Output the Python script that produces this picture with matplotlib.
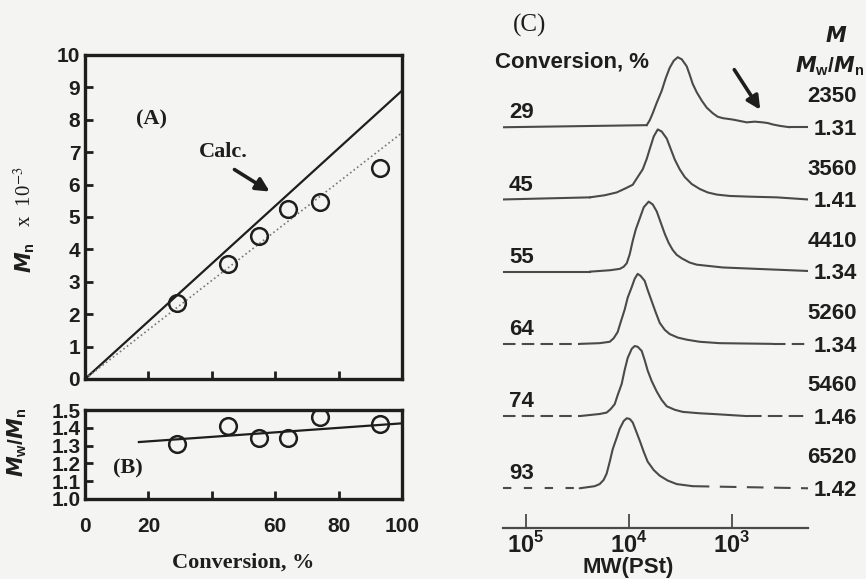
import numpy as np
import matplotlib
matplotlib.use("Agg")
import matplotlib.pyplot as plt
from matplotlib import transforms
from matplotlib.ticker import NullLocator, FixedLocator

# --- data ---
conversion = [29, 45, 55, 64, 74, 93]
mn_k = [2.35, 3.56, 4.41, 5.26, 5.46, 6.52]          # Mn x 10^-3
mn_labels = ["2350", "3560", "4410", "5260", "5460", "6520"]
pdi = [1.31, 1.41, 1.34, 1.34, 1.46, 1.42]
pdi_labels = ["1.31", "1.41", "1.34", "1.34", "1.46", "1.42"]

calc_x = [0, 100]
calc_y = [0, 8.9]
fit_a_x = [0, 100]
fit_a_y = [0, 7.6]
fit_b_x = [17, 100]
fit_b_y = [1.32, 1.425]

# GPC traces: log10(MW) and normalized detector response
gpc_logmw = [
    [3.825, 3.796, 3.767, 3.728, 3.680, 3.641, 3.602, 3.563, 3.524, 3.485, 3.437, 3.408, 3.379, 3.340,
     3.291, 3.243, 3.184, 3.136, 3.087, 2.990, 2.922, 2.854, 2.777, 2.699, 2.650, 2.602, 2.534, 2.437],
    [4.379, 4.233, 4.117, 4.029, 3.961, 3.913, 3.864, 3.825, 3.796, 3.757, 3.718, 3.680, 3.631, 3.592,
     3.553, 3.505, 3.456, 3.388, 3.311, 3.233, 3.146, 3.019, 2.825, 2.563, 2.26],
    [4.379, 4.184, 4.087, 4.049, 4.019, 3.990, 3.961, 3.932, 3.893, 3.854, 3.806, 3.767, 3.728, 3.689,
     3.650, 3.612, 3.573, 3.534, 3.485, 3.408, 3.340, 3.214, 3.087, 2.757, 2.26],
    [4.476, 4.282, 4.184, 4.146, 4.107, 4.078, 4.039, 4.010, 3.971, 3.942, 3.913, 3.884, 3.845, 3.816,
     3.777, 3.738, 3.699, 3.650, 3.602, 3.524, 3.437, 3.311, 3.117, 2.602],
    [4.476, 4.282, 4.214, 4.175, 4.136, 4.107, 4.068, 4.039, 4.010, 3.971, 3.942, 3.913, 3.874, 3.845,
     3.816, 3.777, 3.728, 3.680, 3.631, 3.553, 3.476, 3.311, 3.184, 2.854],
    [4.476, 4.330, 4.282, 4.243, 4.214, 4.184, 4.155, 4.117, 4.087, 4.049, 4.019, 3.990, 3.961, 3.932,
     3.893, 3.854, 3.816, 3.757, 3.699, 3.621, 3.534, 3.379],
]
gpc_resp = [
    [0.03, 0.10, 0.20, 0.35, 0.52, 0.70, 0.85, 0.95, 1.00, 0.97, 0.87, 0.75, 0.62, 0.50,
     0.38, 0.28, 0.20, 0.15, 0.13, 0.11, 0.09, 0.07, 0.08, 0.07, 0.06, 0.04, 0.02, 0.0],
    [0.03, 0.06, 0.10, 0.16, 0.21, 0.32, 0.43, 0.58, 0.72, 0.90, 1.00, 0.97, 0.87, 0.72,
     0.57, 0.43, 0.32, 0.22, 0.15, 0.10, 0.07, 0.05, 0.04, 0.03, 0.0],
    [0.0, 0.02, 0.04, 0.07, 0.12, 0.25, 0.44, 0.60, 0.76, 0.92, 1.00, 0.96, 0.86, 0.70,
     0.54, 0.41, 0.31, 0.24, 0.19, 0.13, 0.10, 0.08, 0.06, 0.04, 0.01],
    [0.0, 0.01, 0.03, 0.08, 0.17, 0.31, 0.49, 0.66, 0.81, 0.93, 1.00, 0.97, 0.90, 0.77,
     0.61, 0.45, 0.30, 0.20, 0.14, 0.09, 0.06, 0.03, 0.01, 0.0],
    [0.0, 0.03, 0.05, 0.10, 0.17, 0.30, 0.46, 0.66, 0.83, 0.96, 1.00, 0.99, 0.93, 0.80,
     0.65, 0.50, 0.35, 0.23, 0.14, 0.09, 0.06, 0.04, 0.03, 0.0],
    [0.0, 0.03, 0.06, 0.12, 0.21, 0.38, 0.56, 0.72, 0.85, 0.96, 1.00, 0.99, 0.94, 0.83,
     0.68, 0.52, 0.38, 0.26, 0.18, 0.11, 0.06, 0.03],
]
mw_ticks = [1e5, 1e4, 1e3]
mw_ticklabels = [r"$10^5$", r"$10^4$", r"$10^3$"]

# --- style ---
W, H = 866, 579
BG = "#f4f4f2"
INK = "#1e1e1e"
TRACE = "#4a4a4a"
plt.rcParams["mathtext.fontset"] = "custom"
plt.rcParams["mathtext.rm"] = "Liberation Sans:weight=bold"
plt.rcParams["mathtext.it"] = "DejaVu Sans:style=oblique:weight=bold"
plt.rcParams["mathtext.bf"] = "Liberation Sans:weight=bold"
plt.rcParams["font.family"] = ["Liberation Sans", "DejaVu Sans"]


def fx(x):
    return x / W


def fy(y):
    return 1 - y / H


fig = plt.figure(figsize=(W / 100, H / 100), dpi=100, facecolor=BG)

axA = fig.add_axes([fx(85), fy(379), fx(402 - 85), (379 - 55) / H])
axB = fig.add_axes([fx(85), fy(499), fx(402 - 85), (499 - 410) / H])
axC = fig.add_axes([fx(503), fy(528), fx(808 - 503), (528 - 37) / H])

for ax in (axA, axB):
    ax.set_facecolor(BG)
    for s in ax.spines.values():
        s.set_linewidth(2.4)
        s.set_color(INK)
    ax.set_xlim(0, 100)
    ax.tick_params(direction="in", length=6, width=2, color=INK,
                   labelsize=15, labelcolor=INK, top=False, right=False)

# --- (A) Mn vs conversion ---
axA.plot(calc_x, calc_y, color=INK, lw=1.6)
axA.plot(fit_a_x, fit_a_y, color="#777777", lw=1.2, ls=":")
axA.plot(conversion, mn_k, "o", ms=12, mfc="none", mec=INK, mew=1.8)
axA.set_ylim(0, 10)
axA.set_yticks(range(0, 11))
axA.set_xticks([20, 40, 60, 80])
axA.set_xticklabels([])
axA.set_yticklabels([str(v) for v in range(0, 11)], fontweight="bold")
axA.text(21, 8.0, "(A)", family="Liberation Serif", fontweight="bold",
         fontsize=16, color=INK, ha="center", va="center")
axA.text(43.5, 7.0, "Calc.", family="Liberation Serif", fontweight="bold",
         fontsize=16, color=INK, ha="center", va="center")
axA.annotate("", xy=(59.0, 5.74), xytext=(46.4, 6.51),
             arrowprops=dict(arrowstyle="-|>", lw=2.6, color=INK, mutation_scale=20))

fig.text(fx(25), fy(258), r"$M_\mathrm{n}$", rotation=90, fontsize=15,
         color=INK, ha="center", va="center")
fig.text(fx(25), fy(197), r"x  10$^{-3}$", rotation=90, fontsize=15,
         family="Liberation Serif", math_fontfamily="stix", color=INK,
         ha="center", va="center")

# --- (B) Mw/Mn vs conversion ---
axB.plot(fit_b_x, fit_b_y, color=INK, lw=1.6)
axB.plot(conversion, pdi, "o", ms=12, mfc="none", mec=INK, mew=1.8)
axB.set_ylim(1.0, 1.5)
axB.set_yticks([1.0, 1.1, 1.2, 1.3, 1.4, 1.5])
axB.set_yticklabels(["1.0", "1.1", "1.2", "1.3", "1.4", "1.5"], fontweight="bold")
axB.set_xticks([0, 20, 40, 60, 80, 100])
axB.set_xticklabels(["0", "20", "", "60", "80", "100"], fontweight="bold")
axB.tick_params(axis="x", pad=13)
axB.tick_params(axis="y", pad=3)
axB.text(13.6, 1.17, "(B)", family="Liberation Serif", fontweight="bold",
         fontsize=16, color=INK, ha="center", va="center")
axB.set_xlabel("Conversion, %", family="Liberation Serif", fontweight="bold",
               fontsize=16, color=INK, labelpad=12)
fig.text(fx(17), fy(442), r"$M_\mathrm{w}/M_\mathrm{n}$", rotation=90,
         fontsize=15, color=INK, ha="center", va="center")

# --- (C) GPC traces ---
axC.set_facecolor(BG)
axC.patch.set_alpha(0)
axC.set_xscale("log")
axC.set_xlim(10 ** 5.22, 10 ** 2.26)
axC.set_ylim(0, 6.8)
for side in ("top", "right", "left"):
    axC.spines[side].set_visible(False)
axC.spines["bottom"].set_color(TRACE)
axC.spines["bottom"].set_linewidth(1.6)
axC.xaxis.set_major_locator(FixedLocator(mw_ticks))
axC.xaxis.set_minor_locator(NullLocator())
axC.set_xticklabels(mw_ticklabels)
axC.tick_params(axis="x", direction="in", length=10, width=1.3, color=TRACE,
                labelsize=17, labelcolor=INK, pad=3)
axC.set_yticks([])

peak = 0.97
left_ls = ["-", "-", "-", (0, (6, 3)), (0, (6, 3)), (0, (4, 6))]
right_ls = ["-", "-", "-", (0, (6, 3)), (0, (7, 3)), (0, (8, 5))]
n = len(conversion)
xl0, xl1 = axC.get_xlim()
tr_left = transforms.blended_transform_factory(fig.transFigure, axC.transData)
for i in range(n):
    base = 0.55 + (n - 1 - i) * 1.0
    xs = [10 ** v for v in gpc_logmw[i]]
    ys = [base + peak * r for r in gpc_resp[i]]
    axC.plot(xs, ys, color=TRACE, lw=1.5, solid_joinstyle="round",
             solid_capstyle="round")
    axC.plot([xl0, xs[0]], [base, ys[0]], color=TRACE, lw=1.5, ls=left_ls[i])
    if xs[-1] > xl1:
        axC.plot([xs[-1], xl1], [ys[-1], base], color=TRACE, lw=1.5, ls=right_ls[i])

    fig.text(fx(509), base + 0.2, str(conversion[i]), transform=tr_left,
             fontsize=16, fontweight="bold", color=INK, ha="left", va="center")
    fig.text(fx(857), base + 0.42, mn_labels[i], transform=tr_left,
             fontsize=16, fontweight="bold", color=INK, ha="right", va="center")
    fig.text(fx(857), base - 0.03, pdi_labels[i], transform=tr_left,
             fontsize=16, fontweight="bold", color=INK, ha="right", va="center")

axC.annotate("", xy=(10 ** 2.709, 5.76), xytext=(10 ** 2.99, 6.38),
             arrowprops=dict(arrowstyle="-|>", lw=2.6, color=INK, mutation_scale=20))

fig.text(fx(530), fy(25), "(C)", family="Liberation Serif", fontsize=18,
         color=INK, ha="center", va="center")
fig.text(fx(495), fy(62), "Conversion, %", fontsize=16, fontweight="bold",
         color=INK, ha="left", va="center")
fig.text(fx(836), fy(36), r"$M$", fontsize=15, color=INK, ha="center", va="center")
fig.text(fx(864), fy(66), r"$M_\mathrm{w}/M_\mathrm{n}$", fontsize=15, color=INK,
         ha="right", va="center")
fig.text(fx(628), fy(568), "MW(PSt)", fontsize=16, fontweight="bold",
         color=INK, ha="center", va="center")

fig.savefig("out.png", dpi=100, facecolor=BG)
